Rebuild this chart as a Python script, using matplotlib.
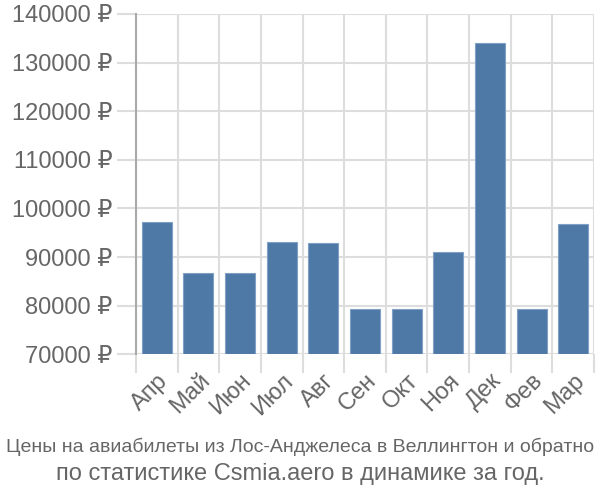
import numpy as np
import matplotlib.pyplot as plt
from matplotlib.ticker import FixedLocator, FuncFormatter

months = ['Апр', 'Май', 'Июн', 'Июл', 'Авг', 'Сен', 'Окт', 'Ноя', 'Дек', 'Фев', 'Мар']
prices = [97200, 86700, 86700, 93100, 92900, 79400, 79400, 91100, 134000, 79400, 96800]
y_ticks = [70000, 80000, 90000, 100000, 110000, 120000, 130000, 140000]
title_1 = 'Цены на авиабилеты из Лос-Анджелеса в Веллингтон и обратно'
title_2 = 'по статистике Csmia.aero в динамике за год.'

plt.rcParams['font.family'] = ['Liberation Sans', 'DejaVu Sans']
text_color = '#666666'
grid_color = '#dddddd'

fig = plt.figure(figsize=(6, 5), dpi=100)
ax = fig.add_axes([136 / 600, 1 - 354.3 / 500, 458 / 600, 340.3 / 500])

x = np.arange(len(months))
base = y_ticks[0]
ax.bar(x, np.array(prices) - base, bottom=base, width=0.72,
       color='#4e79a7', edgecolor='#7f9fc4', linewidth=0.8, zorder=3)

ax.set_xlim(-0.5, len(months) - 0.5)
ax.set_ylim(y_ticks[0], y_ticks[-1])

# y axis
ax.yaxis.set_major_locator(FixedLocator(y_ticks))
ax.yaxis.set_major_formatter(FuncFormatter(lambda v, p: f'{int(v)} ₽'))
ax.tick_params(axis='y', length=14, width=1.5, color=grid_color,
               labelsize=17, labelcolor=text_color, pad=3)

# x axis: labels at centers, grid at boundaries
ax.set_xticks(x)
ax.set_xticklabels(months, rotation=45, ha='right', va='top',
                   rotation_mode='anchor')
ax.set_xticks(np.arange(-0.5, len(months)), minor=True)
ax.tick_params(axis='x', which='major', length=0, labelsize=17,
               labelcolor=text_color, pad=11)
ax.tick_params(axis='x', which='minor', length=14, width=1.5, color=grid_color)
ax.xaxis.get_minor_ticks()[0].tick1line.set_color('#aaaaaa')

ax.grid(True, axis='y', which='major', color=grid_color, linewidth=1.5, zorder=0)
ax.grid(True, axis='x', which='minor', color=grid_color, linewidth=1.5, zorder=0)
ax.grid(False, axis='x', which='major')

for side in ['top', 'right', 'bottom']:
    ax.spines[side].set_visible(False)
ax.spines['left'].set_color('#aaaaaa')
ax.spines['left'].set_linewidth(1.5)
ax.spines['left'].set_zorder(4)

fig.text(0.5, 1 - 447 / 500, title_1, ha='center', va='center',
         fontsize=14, color=text_color)
fig.text(0.5, 1 - 474 / 500, title_2, ha='center', va='center',
         fontsize=17, color=text_color)

fig.savefig('out.png', dpi=100)
